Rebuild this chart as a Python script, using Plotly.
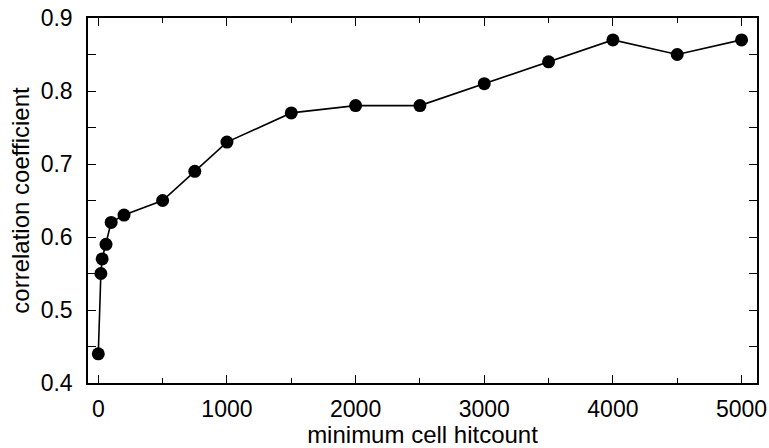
import plotly.graph_objects as go

# minimum cell hitcount thresholds and resulting correlation coefficients
hitcount = [0, 20, 30, 60, 100, 200, 500, 750, 1000, 1500, 2000, 2500, 3000, 3500, 4000, 4500, 5000]
correlation = [0.44, 0.55, 0.57, 0.59, 0.62, 0.63, 0.65, 0.69, 0.73, 0.77, 0.78, 0.78, 0.81, 0.84, 0.87, 0.85, 0.87]

x_ticks = [0, 1000, 2000, 3000, 4000, 5000]
y_ticks = [0.4, 0.5, 0.6, 0.7, 0.8, 0.9]

fig = go.Figure(
    go.Scatter(
        x=hitcount,
        y=correlation,
        mode="lines+markers",
        line=dict(color="black", width=1.6),
        marker=dict(color="black", size=13),
    )
)

font_family = "Liberation Sans, Arial, sans-serif"
axis_common = dict(
    showline=True,
    linecolor="black",
    linewidth=1.5,
    mirror="allticks",
    ticks="inside",
    ticklen=8,
    tickwidth=1.2,
    tickcolor="black",
    showgrid=False,
    zeroline=False,
    automargin=False,
    tickfont=dict(family=font_family, size=23, color="black"),
)

fig.update_xaxes(
    range=[-80, 5120],
    tickvals=x_ticks,
    ticktext=[str(v) for v in x_ticks],
    minor=dict(dtick=500, tick0=0, ticks="inside", ticklen=5, tickwidth=1, tickcolor="black"),
    title=dict(text="minimum cell hitcount", font=dict(family=font_family, size=24, color="black"), standoff=0),
    ticklabelstandoff=5,
    **axis_common,
)
fig.update_yaxes(
    range=[0.4, 0.9],
    tickvals=y_ticks,
    ticktext=[f"{v:.1f}" for v in y_ticks],
    minor=dict(dtick=0.05, tick0=0.4, ticks="inside", ticklen=8, tickwidth=1, tickcolor="black"),
    title=dict(text="correlation coefficient", font=dict(family=font_family, size=24, color="black"), standoff=4),
    ticklabelstandoff=9,
    **axis_common,
)

fig.update_layout(
    width=769,
    height=448,
    margin=dict(l=88, r=12, t=18, b=65),
    paper_bgcolor="white",
    plot_bgcolor="white",
    showlegend=False,
)

fig.write_html("out.html")
